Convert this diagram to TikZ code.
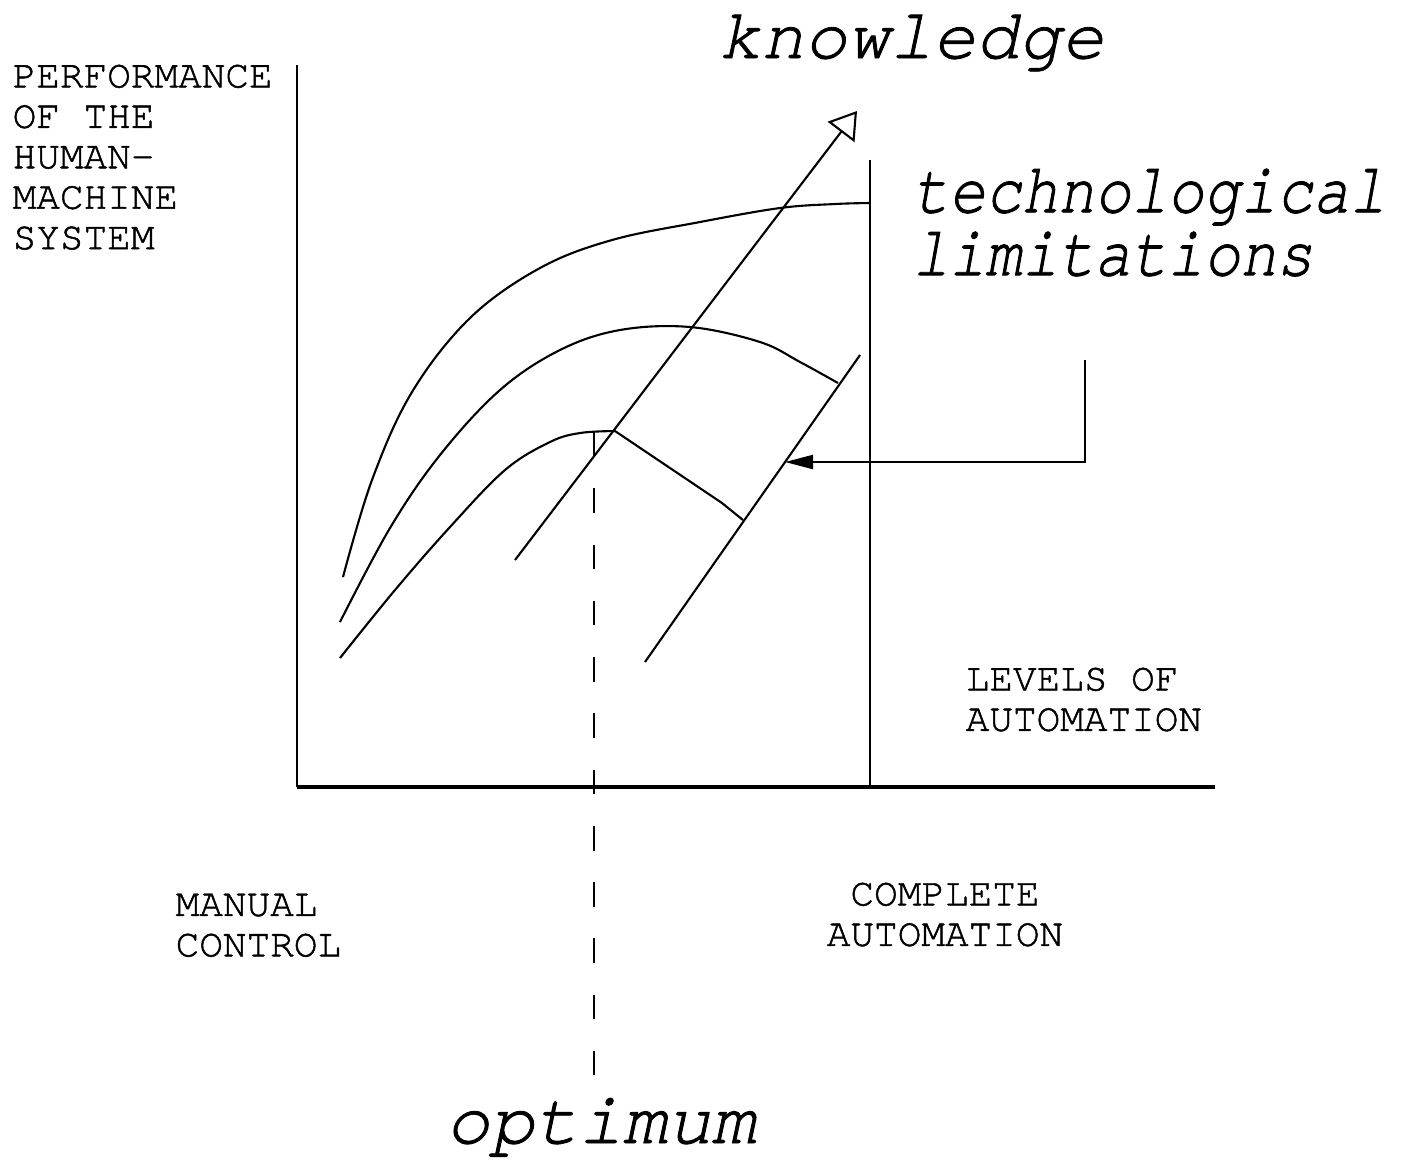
\documentclass[tikz,border=0pt]{standalone}
\usepackage{fontspec}
\newfontfamily\typefont[FakeBold=1.2]{TeX Gyre Cursor}
\newfontfamily\narrowfont[FakeStretch=0.85, FakeBold=1.2]{TeX Gyre Cursor}
\usetikzlibrary{arrows.meta}

\begin{document}
\begin{tikzpicture}[x=0.01cm, y=-0.01cm,
  caps/.style={font=\typefont\fontsize{11.2}{11.5}\selectfont, align=left, inner sep=0pt},
  bigital/.style={font=\typefont\itshape\fontsize{20.3}{24}\selectfont, inner sep=0pt},
  narrowital/.style={font=\narrowfont\itshape\fontsize{20.3}{17.9}\selectfont, align=left, inner sep=0pt},
  thinline/.style={line width=0.6pt},
  axisline/.style={line width=0.9pt},
  optline/.style={line width=0.6pt, dash pattern=on 7pt off 9pt}]

  \useasboundingbox (0,0) rectangle (1406,1159);

  % --- axes ---
  \coordinate (ytop) at (297,65);
  \coordinate (o)    at (297,787);
  \coordinate (xend) at (1215,787);
  \draw[thinline]  (ytop) -- (o);
  \draw[axisline]  (o) -- (xend);

  % --- complete automation limit ---
  \coordinate (ctop) at (870,160);
  \coordinate (cbot) at (870,787);
  \draw[thinline] (ctop) -- (cbot);

  % --- optimum ---
  \coordinate (opttop) at (594,432);
  \coordinate (optbot) at (594,1075);
  \draw[optline] (opttop) -- (optbot);

  % --- knowledge arrow and technological limit ---
  \coordinate (kstart) at (515,560);
  \coordinate (ktip)   at (857,111);
  \draw[thinline, -{Triangle[open, length=7.5pt, width=9.5pt]}] (kstart) -- (ktip);
  \coordinate (tstart) at (645,662);
  \coordinate (tend)   at (860,355);
  \draw[thinline] (tstart) -- (tend);

  % --- performance curves ---
  \draw[thinline] plot[smooth, tension=0.6] coordinates
    {(343,577) (372,480) (412,392) (470,318) (540,268) (612,240) (700,222) (780,208) (835,204) (870,203)};
  \draw[thinline] plot[smooth, tension=0.6] coordinates
    {(340,622) (390,528) (440,455) (500,390) (560,350) (620,330) (690,327) (760,342) (800,362) (838,383)};
  \draw[thinline] plot[smooth, tension=0.6] coordinates
    {(340,658) (395,590) (450,527) (505,470) (550,442) (580,433) (615,431)} -- (722,503) -- (743,520);

  % --- pointer to the limit ---
  \coordinate (pstart) at (1085,360);
  \coordinate (ptip)   at (785,462);
  \draw[thinline, -{Triangle[length=8pt, width=4pt]}] (pstart) |- (ptip);

  % --- labels ---
  \node[caps, anchor=north west] (yname) at (12,64) {PERFORMANCE\\OF THE\\HUMAN-\\MACHINE\\SYSTEM};
  \node[caps, anchor=north west] (xname) at (965,667) {LEVELS OF\\AUTOMATION};
  \node[caps, anchor=north west] (manual) at (175,893) {MANUAL\\CONTROL};
  \node[caps, align=center, anchor=north] (complete) at (945,882) {COMPLETE\\AUTOMATION};
  \node[bigital, anchor=base west] (knowl) at (718,58) {knowledge};
  \node[narrowital, anchor=north west] (techlim) at (912,168) {technological\\limitations};
  \node[bigital, anchor=base west, font=\typefont\itshape\fontsize{21}{24}\selectfont] (optim) at (445,1143) {optimum};
\end{tikzpicture}
\end{document}
